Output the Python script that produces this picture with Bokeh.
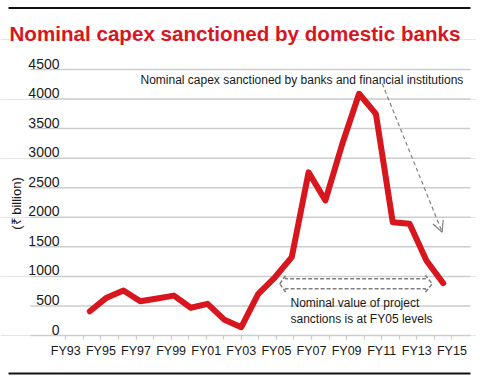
import math
from bokeh.plotting import figure
from bokeh.models import (Range1d, FixedTicker, Label, Arrow, OpenHead,
                          PolyAnnotation, BoxAnnotation, ColumnDataSource)
from bokeh.core.properties import value
from bokeh.embed import file_html
from bokeh.resources import INLINE

# ---------------- data ----------------
years = [1994, 1995, 1996, 1997, 1998, 1999, 2000, 2001, 2002, 2003, 2004,
         2005, 2006, 2007, 2008, 2009, 2010, 2011, 2012, 2013, 2014, 2015]
capex = [410, 640, 760, 580, 625, 675, 470, 535, 265, 140, 700,
         985, 1325, 2760, 2285, 3240, 4090, 3750, 1915, 1890, 1270, 885]

y_ticks = [0, 500, 1000, 1500, 2000, 2500, 3000, 3500, 4000, 4500]
y_tick_labels = ["0", "500", "1000", "1500", "2000", "2500", "3000", "3500", "4000", "4500"]

all_years = list(range(1993, 2016))
label_years = [1993, 1995, 1997, 1999, 2001, 2003, 2005, 2007, 2009, 2011, 2013, 2015]
label_text = ["FY93", "FY95", "FY97", "FY99", "FY01", "FY03", "FY05", "FY07",
              "FY09", "FY11", "FY13", "FY15"]

title_text = "Nominal capex sanctioned by domestic banks"
y_label = "(\u20b9 billion)"
note_top = "Nominal capex sanctioned by banks and financial institutions"
note_bottom_1 = "Nominal value of project"
note_bottom_2 = "sanctions is at FY05 levels"

# ---------------- layout calibration (pixels of the picture) ----------------
W, H = 476, 378
AX_PX_PER_YR = 17.55      # spacing of the FY tick marks
SR_PX_PER_YR = 16.83      # spacing of the plotted points
PX_PER_UNIT = 0.05911     # vertical pixels per \u20b9 billion
Y0_PX = 335               # pixel row of the zero line

XA0 = 1993 - 65.3 / AX_PX_PER_YR
XA1 = XA0 + W / AX_PX_PER_YR
XS0 = 1994 - 89.3 / SR_PX_PER_YR
XS1 = XS0 + W / SR_PX_PER_YR
YB = -(H - Y0_PX) / PX_PER_UNIT
YT = Y0_PX / PX_PER_UNIT


def ax(px):
    return XA0 + px / AX_PX_PER_YR


def ay(py):
    return (Y0_PX - py) / PX_PER_UNIT


RED = "#d7161d"
GRAY = "#808080"
GRID = "#cdcdcd"
TXT = "#1a1a1a"
FONT = "Liberation Sans"

p = figure(width=W, height=H, output_backend="svg", toolbar_location=None,
           x_range=Range1d(XA0, XA1), y_range=Range1d(YB, YT),
           y_axis_location=None, title=None, min_border=0)
p.extra_x_ranges = {"series": Range1d(XS0, XS1)}
p.outline_line_color = None
p.background_fill_color = "white"
p.border_fill_color = "white"
p.xgrid.grid_line_color = None

# horizontal grid lines (start right of the canvas edge, as in the original)
p.segment(x0=[ax(30)] * len(y_ticks), x1=[ax(470)] * len(y_ticks),
          y0=y_ticks, y1=y_ticks, line_color=GRID, line_width=1.5)

# x axis pinned at zero
xa = p.xaxis[0]
xa.fixed_location = 0
xa.ticker = FixedTicker(ticks=label_years, minor_ticks=all_years)
xa.major_label_overrides = {yr: lab for yr, lab in zip(label_years, label_text)}
xa.axis_line_color = None
xa.major_tick_line_color = GRID
xa.minor_tick_line_color = GRID
xa.major_tick_line_width = 1.2
xa.minor_tick_line_width = 1.2
xa.major_tick_out = 4
xa.major_tick_in = 0
xa.minor_tick_out = 4
xa.minor_tick_in = 0
xa.major_label_standoff = 4
xa.major_label_text_font = FONT
xa.major_label_text_font_size = "12.5px"
xa.major_label_text_color = TXT

# y tick labels sitting above the grid lines
p.text(x=[ax(59)] * len(y_ticks), y=y_ticks, text=y_tick_labels,
       y_offset=-6, text_align="right", text_baseline="alphabetic",
       text_font=value(FONT), text_font_size="14px", text_color=TXT)

# series line
src = ColumnDataSource(dict(year=years, capex=capex))
p.line(x="year", y="capex", source=src, x_range_name="series",
       line_color=RED, line_width=6, line_cap="round", line_join="round")

# rules top and bottom
for top_px, bot_px in [(6.5, 8.5), (372, 374)]:
    p.add_layout(BoxAnnotation(left=ax(8), right=ax(470), top=ay(top_px), bottom=ay(bot_px),
                               fill_color="#111111", fill_alpha=1.0, line_color=None))

# title
p.add_layout(Label(x=ax(9), y=ay(33.3), text=title_text, text_font=FONT,
                   text_font_style="bold", text_font_size="20.6px", text_color=RED,
                   text_baseline="alphabetic"))

# y axis title
p.add_layout(Label(x=ax(16), y=ay(203), text=y_label, angle=math.pi / 2,
                   text_align="center", text_baseline="middle", text_font=FONT,
                   text_font_size="13px", text_color=TXT))

# annotations
p.add_layout(Label(x=ax(140), y=ay(79.5), text=note_top, text_font=FONT,
                   text_font_size="12px", text_color=TXT,
                   text_baseline="alphabetic"))
p.add_layout(Arrow(x_start=ax(381.7), y_start=ay(83), x_end=ax(441.7), y_end=ay(231.7),
                   line_color=GRAY, line_width=1.2, line_dash="4 3",
                   end=OpenHead(size=11, line_color=GRAY, line_width=1.2)))

p.add_layout(Label(x=ax(290), y=ay(302.5), text=note_bottom_1, text_font=FONT,
                   text_font_size="12px", text_color=TXT, text_baseline="alphabetic"))
p.add_layout(Label(x=ax(290), y=ay(318.5), text=note_bottom_2, text_font=FONT,
                   text_font_size="12px", text_color=TXT, text_baseline="alphabetic"))

poly_px = [(279.3, 283.3), (285, 275), (285, 278.3), (425, 278.3), (425, 275),
           (431.7, 283.3), (425, 291.5), (425, 288.3), (285, 288.3), (285, 291.5)]
p.add_layout(PolyAnnotation(xs=[ax(a) for a, _ in poly_px], ys=[ay(b) for _, b in poly_px],
                            fill_alpha=0, fill_color=None, line_color=GRAY,
                            line_alpha=1.0, line_width=1.5, line_dash="4 2"))

open("out.html", "w").write(file_html(p, INLINE))
